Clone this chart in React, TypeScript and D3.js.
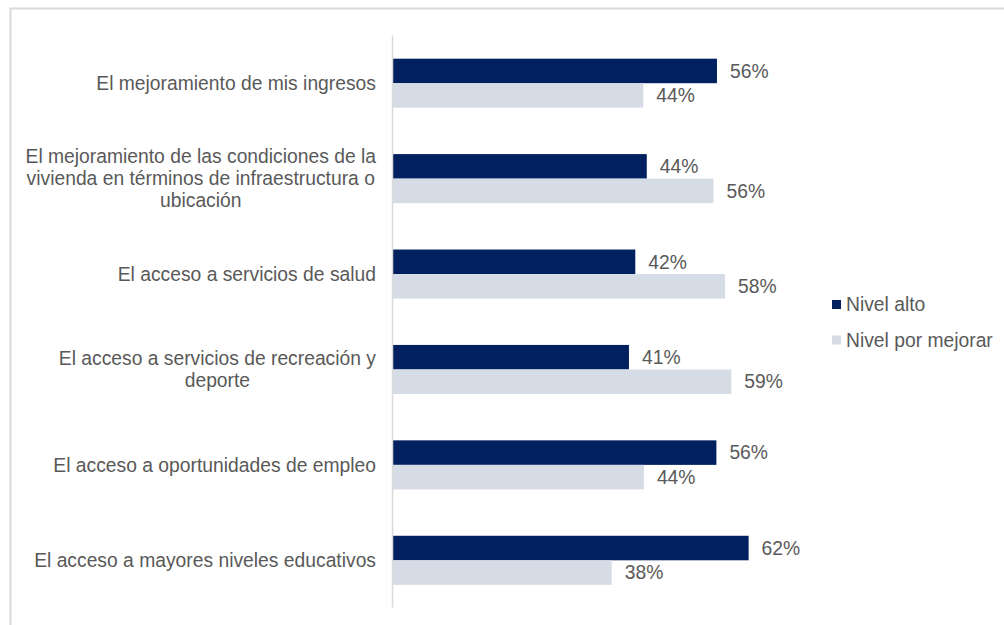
import React from "react";
import * as d3 from "d3";

const categories: string[] = [
  "El mejoramiento de mis ingresos",
  "El mejoramiento de las condiciones de la vivienda en términos de infraestructura o ubicación",
  "El acceso a servicios de salud",
  "El acceso a servicios de recreación y deporte",
  "El acceso a oportunidades de empleo",
  "El acceso a mayores niveles educativos",
];

const categoryLines: string[][] = [
  ["El mejoramiento de mis ingresos"],
  ["El mejoramiento de las condiciones de la", "vivienda en términos de infraestructura o", "ubicación"],
  ["El acceso a servicios de salud"],
  ["El acceso a servicios de recreación y", "deporte"],
  ["El acceso a oportunidades de empleo"],
  ["El acceso a mayores niveles educativos"],
];

const seriesNames: string[] = ["Nivel alto", "Nivel por mejorar"];
const nivelAlto: number[] = [56.4, 44.2, 42.2, 41.1, 56.3, 61.9];
const nivelPorMejorar: number[] = [43.6, 55.8, 57.8, 58.9, 43.7, 38.1];
const seriesColors: string[] = ["#002060", "#D6DCE5"];

const W = 1004;
const H = 625;
const FONT = "'Liberation Sans', Arial, sans-serif";
const TEXT = "#595959";
const FS = 19.3;

export default function App() {
  const x = d3.scaleLinear().domain([0, 100]).range([392.5, 967.8]);
  const y0 = d3
    .scaleBand<string>()
    .domain(categories)
    .range([35.5, 608])
    .paddingInner(0.486)
    .paddingOuter(0.243);
  const y1 = d3
    .scaleBand<string>()
    .domain(seriesNames)
    .range([0, y0.bandwidth()]);

  const seriesValues = [nivelAlto, nivelPorMejorar];
  const fmt = (v: number) => `${Math.round(v)}%`;

  return (
    <svg
      width={W}
      height={H}
      style={{ position: "absolute", left: 0, top: 0, background: "#fff" }}
      fontFamily={FONT}
    >
      <rect x={0} y={0} width={W} height={H} fill="#fff" />
      {/* outer frame */}
      <path d={`M10.5,${H + 5} V8.5 H${W + 5}`} fill="none" stroke="#D9D9D9" strokeWidth={2} />

      {/* bars */}
      {categories.map((c, i) => (
        <g key={c}>
          {seriesNames.map((s, j) => {
            const v = seriesValues[j][i];
            const yy = (y0(c) as number) + (y1(s) as number);
            const h = y1.bandwidth();
            return (
              <g key={s}>
                <rect x={x(0)} y={yy} width={x(v) - x(0)} height={h} fill={seriesColors[j]} />
                <text
                  x={x(v) + 13}
                  y={yy + h / 2}
                  dy="0.35em"
                  fontSize={FS}
                  fill={TEXT}
                >
                  {fmt(v)}
                </text>
              </g>
            );
          })}
        </g>
      ))}

      {/* axis line */}
      <line x1={x(0)} x2={x(0)} y1={35.5} y2={607.5} stroke="#D9D9D9" strokeWidth={1.5} />

      {/* category labels */}
      {categories.map((c, i) => {
        const lines = categoryLines[i];
        const cy = (y0(c) as number) + y0.bandwidth() / 2;
        const lh = 22;
        const multi = lines.length > 1;
        return (
          <text
            key={c}
            fontSize={FS}
            fill={TEXT}
            textAnchor={multi ? "middle" : "end"}
            ref={(el) => {
              if (!el || !multi) return;
              const tspans = Array.from(el.querySelectorAll("tspan")) as SVGTSpanElement[];
              const maxW = Math.max(...tspans.map((t) => t.getComputedTextLength()));
              const cx = 376 - maxW / 2;
              tspans.forEach((t) => t.setAttribute("x", String(cx)));
            }}
          >
            {lines.map((ln, k) => (
              <tspan key={k} x={376} y={cy + (k - (lines.length - 1) / 2) * lh} dy="0.35em">
                {ln}
              </tspan>
            ))}
          </text>
        );
      })}

      {/* legend */}
      {seriesNames.map((s, j) => {
        const ly = 304.5 + j * 35.5;
        return (
          <g key={s}>
            <rect x={832} y={ly - 4.5} width={9} height={9} fill={seriesColors[j]} />
            <text x={846} y={ly} dy="0.35em" fontSize={FS} fill={TEXT}>
              {s}
            </text>
          </g>
        );
      })}
    </svg>
  );
}
